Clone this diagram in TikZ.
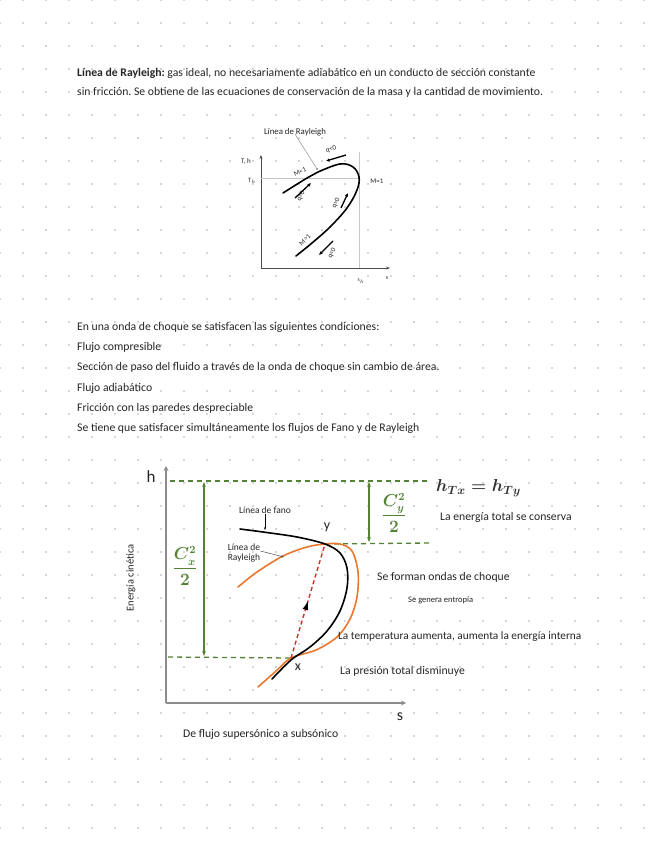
\documentclass[tikz,border=0pt]{standalone}
\usepackage{fontspec}
\setmainfont{Carlito}
\usetikzlibrary{arrows.meta,decorations.markings}
\frenchspacing
\definecolor{dotc}{HTML}{D6D6D6}
\definecolor{grn}{HTML}{548235}
\definecolor{org}{HTML}{E8782E}
\definecolor{redd}{HTML}{E02828}
\definecolor{axc}{HTML}{8C8C8C}
\definecolor{txtc}{HTML}{262626}
\definecolor{mathc}{HTML}{333333}
\tikzset{
  txt/.style={font=\fontsize{11.7}{13}\selectfont, text=txtc, inner sep=0pt, anchor=west},
  lbl/.style={font=\fontsize{#1}{#1}\selectfont, text=txtc, inner sep=0pt},
  sax/.style={draw=black!70, line width=0.6pt},
  sarr/.style={line width=1.3pt, -{Latex[length=3.5pt,width=3.5pt]}},
  bax/.style={draw=axc, line width=1.6pt},
  gdash/.style={draw=grn, line width=1.3pt, dash pattern=on 5pt off 4pt},
  garr/.style={draw=grn, line width=1.5pt, {Stealth[length=5pt]}-{Stealth[length=5pt]}},
}
\begin{document}
\begin{tikzpicture}[x=1pt,y=-1pt]
\fill[white] (0,0) rectangle (656,848);
\useasboundingbox (0,0) rectangle (656,848);
% dot grid
\foreach \i in {0,...,28}{\foreach \j in {0,...,36}{\fill[dotc] (23*\i-1,23*\j-1) rectangle ++(2,2);}}

% top paragraph
\node[txt] (p1) at (77,73) {\textbf{Línea de Rayleigh:} gas ideal, no necesariamente adiabático en un conducto de sección constante};
\node[txt] (p2) at (77,92) {sin fricción. Se obtiene de las ecuaciones de conservación de la masa y la cantidad de movimiento.};

% small Rayleigh diagram
\coordinate (so) at (261,268);
\coordinate (sy) at (261,155);
\coordinate (sx) at (390,268);
\draw[sax,-{Stealth[length=4pt]}] (so) -- (sy);
\draw[sax,-{Stealth[length=4pt]}] (so) -- (sx);
\coordinate (tl) at (261,178);
\coordinate (tr) at (359,178);
\coordinate (vt) at (359,152);
\coordinate (vb) at (359,268);
\draw[gray!45, line width=0.4pt] (tl) -- (tr);
\draw[gray!45, line width=0.4pt] (vt) -- (vb);
\node[lbl=7] (th) at (246,162) {T, h};
\node[lbl=6.5] (t0) at (252,181) {T$_h$};
\node[lbl=7] (m1) at (377,181) {M=1};
\node[lbl=5.5] (s0) at (361,281) {s$_h$};
\node[lbl=6] (s1) at (387,278) {s};
\node[lbl=8.8] (lr) at (295,132) {Línea de Rayleigh};
\coordinate (lrp) at (317,169);
\draw[gray, line width=0.4pt] (lr.south) ++(0,-2) -- (lrp);
\fill[gray] (lrp) circle (1);
\draw[line width=1.6pt, line cap=round] plot[smooth, tension=0.6] coordinates {(283,193) (307,178) (318,172) (340,164) (353,167) (359,177) (357,190) (347,208) (330,227) (312,243) (296,256)};
\node[lbl=7, rotate=25] (mm1) at (300,172) {M<1};
\node[lbl=7, rotate=15] (q1) at (331,149) {q<0};
\node[lbl=7, rotate=65] (q2) at (301,196) {q>0};
\node[lbl=7, rotate=65] (q3) at (336,203) {q>0};
\node[lbl=7, rotate=45] (mm2) at (305,240) {M>1};
\node[lbl=7, rotate=65] (q4) at (332,253) {q<0};
\coordinate (a1s) at (346,155); \coordinate (a1e) at (326,161);
\coordinate (a2s) at (295,198); \coordinate (a2e) at (311,183);
\coordinate (a3s) at (341,208); \coordinate (a3e) at (348,193);
\coordinate (a4s) at (333,241); \coordinate (a4e) at (319,255);
\draw[sarr] (a1s) -- (a1e);
\draw[sarr] (a2s) -- (a2e);
\draw[sarr] (a3s) -- (a3e);
\draw[sarr] (a4s) -- (a4e);

% list
\node[txt] (l1) at (77,327) {En una onda de choque se satisfacen las siguientes condiciones:};
\node[txt] (l2) at (77,347) {Flujo compresible};
\node[txt] (l3) at (77,367) {Sección de paso del fluido a través de la onda de choque sin cambio de área.};
\node[txt] (l4) at (77,388) {Flujo adiabático};
\node[txt] (l5) at (77,408) {Fricción con las paredes despreciable};
\node[txt] (l6) at (77,428) {Se tiene que satisfacer simultáneamente los flujos de Fano y de Rayleigh};

% big diagram
\coordinate (O) at (166,703);
\coordinate (Ot) at (166,466);
\coordinate (Or) at (406,703);
\draw[bax, -{Stealth[length=5pt,width=5pt]}] (O) -- (Ot);
\draw[bax, -{Stealth[length=5pt,width=5pt]}] (O) -- (Or);
\node[lbl=17] (hh) at (151,477) {h};
\node[lbl=16] (ss) at (400,717) {s};
\coordinate (X) at (291,658);
\coordinate (Y) at (325,544);
\coordinate (d1a) at (170,481); \coordinate (d1b) at (430,481);
\coordinate (d2a) at (168,657);
\coordinate (d3b) at (430,543);
\draw[gdash] (d1a) -- (d1b);
\draw[gdash] (d2a) -- (X);
\draw[gdash] (Y) -- (d3b);
\coordinate (g1t) at (204,482); \coordinate (g1b) at (204,656);
\coordinate (g2t) at (369,482); \coordinate (g2b) at (369,542);
\draw[garr] (g1t) -- (g1b);
\draw[garr] (g2t) -- (g2b);
\node[text=grn, inner sep=0pt, font=\fontsize{16}{16}\selectfont] (cx) at (185,566) {{\boldmath$\displaystyle\frac{C_x^2}{2}$}};
\node[text=grn, inner sep=0pt, font=\fontsize{16}{16}\selectfont] (cy) at (394,513) {{\boldmath$\displaystyle\frac{C_y^2}{2}$}};
\node[text=mathc, inner sep=0pt, anchor=west, font=\fontsize{17}{17}\selectfont] (ht) at (436,488) {{\boldmath$h_{Tx}=h_{Ty}$}};
\node[txt] (ec) at (440,517) {La energía total se conserva};
% curves
\draw[org, line width=1.6pt, line cap=round] plot[smooth, tension=0.55] coordinates {(238,587) (257,572) (283,556) (307,547) (325,544) (340,544) (352,551) (358,572) (357,597) (350,619) (337,637) (316,650) (291,658) (275,672) (258,687)};
\draw[black, line width=1.6pt, line cap=round] plot[smooth, tension=0.55] coordinates {(240,529) (263,532) (297,537) (325,544) (340,553) (347,568) (347,588) (340,611) (327,631) (310,647) (291,660) (272,679)};
\draw[redd, line width=1.4pt, dash pattern=on 4pt off 3pt,
  postaction={decorate, decoration={markings, mark=at position 0.5 with {\arrow[black]{Latex[length=9pt,width=6pt]}}}}] (X) -- (Y);
\node[lbl=14] (yl) at (327,527) {y};
\node[lbl=14] (xl) at (298,667) {x};
\node[lbl=9.5] (lf) at (265,510) {Línea de fano};
\node[lbl=9.5, align=left] (lrb) at (244,553) {Línea de\\[1pt]Rayleigh};
\coordinate (lfp) at (265,530);
\coordinate (lrbp) at (284,557);
\draw[black, line width=0.5pt, -{Stealth[length=3pt]}] (lf.south) -- (lfp);
\draw[black!70, line width=0.5pt, -{Stealth[length=3pt]}] (lrb.east) ++(0,-2) -- (lrbp);
\node[txt, rotate=90, anchor=center, font=\fontsize{10.5}{11}\selectfont] (ecin) at (131,578) {Energía cinética};
\node[txt] (fo) at (377,577) {Se forman ondas de choque};
\node[txt, font=\fontsize{8.5}{9}\selectfont] (ge) at (408,600) {Se genera entropía};
\node[txt, font=\fontsize{11.3}{12}\selectfont] (ta) at (338,637) {La temperatura aumenta, aumenta la energía interna};
\node[txt] (pt) at (340,671) {La presión total disminuye};
\node[txt] (df) at (183,734) {De flujo supersónico a subsónico};
\end{tikzpicture}
\end{document}
